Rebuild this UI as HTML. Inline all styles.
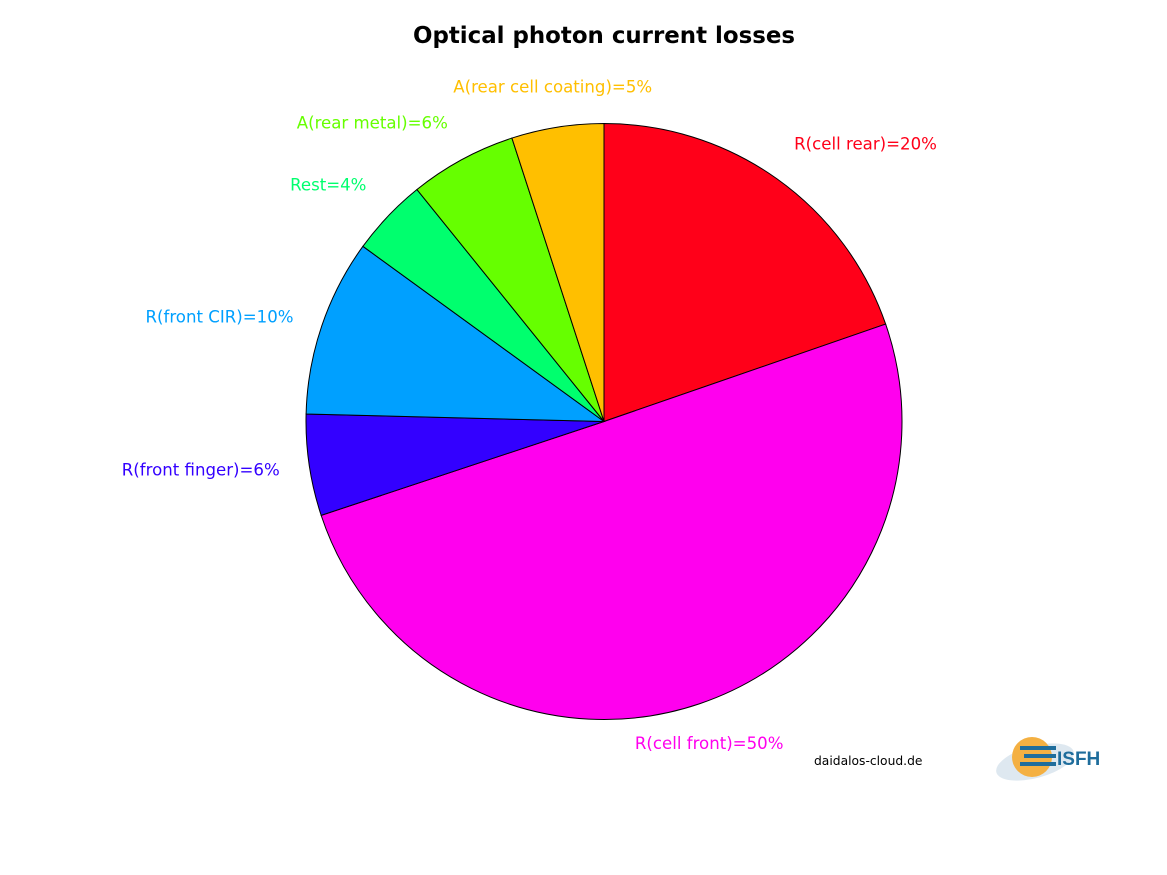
<!DOCTYPE html>
<html><head><meta charset="utf-8"><style>
html,body{margin:0;padding:0;background:#fff;}
svg{display:block;font-family:"DejaVu Sans","Liberation Sans",sans-serif;}
</style></head><body>
<svg id="chart" width="1167" height="875" viewBox="0 0 1167 875">
<rect width="1167" height="875" fill="#fff"/>
<text x="604" y="43" text-anchor="middle" font-size="22.9" font-weight="bold">Optical photon current losses</text>
<g id="slices"></g>
<g id="labels"></g>
<text x="814" y="765" font-size="12.3">daidalos-cloud.de</text>
<g>
<ellipse cx="1035" cy="762" rx="40" ry="16" fill="#c8d8e6" opacity="0.6" transform="rotate(-15 1035 762)"/>
<circle cx="1032" cy="757" r="20" fill="#f4b042"/>
<rect x="1020" y="746" width="36" height="4" fill="#1f6d9c"/>
<rect x="1024" y="754" width="32" height="4" fill="#1f6d9c"/>
<rect x="1020" y="762" width="36" height="4" fill="#1f6d9c"/>
<text x="1057" y="765" font-size="19" font-weight="bold" fill="#1f6d9c" font-family="Liberation Sans, sans-serif">ISFH</text>
</g>
</svg>
<script>
const categories = ["R(cell rear)","R(cell front)","R(front finger)","R(front CIR)","Rest","A(rear metal)","A(rear cell coating)"];
const values = [19.7, 50.2, 5.5, 9.6, 4.2, 5.8, 5.0];
const printedValues = ["20%","50%","6%","10%","4%","6%","5%"];
const colors = ["#ff0019","#ff00ee","#3300ff","#00a0ff","#00ff6e","#66ff00","#ffbf00"];
const cx=604, cy=421.5, r=298;
const ns="http://www.w3.org/2000/svg";
const total = values.reduce((a,b)=>a+b,0);
const sg=document.getElementById('slices'), lg=document.getElementById('labels');
function pt(frac, rad){const a=frac*2*Math.PI;return [cx+rad*Math.sin(a), cy-rad*Math.cos(a)];}
let acc=0;
values.forEach((v,i)=>{
  const f0=acc/total, f1=(acc+v)/total; acc+=v;
  const p0=pt(f0,r), p1=pt(f1,r);
  const large=(f1-f0)>0.5?1:0;
  const p=document.createElementNS(ns,'path');
  p.setAttribute('d',`M${cx},${cy} L${p0[0]},${p0[1]} A${r},${r} 0 ${large} 1 ${p1[0]},${p1[1]} Z`);
  p.setAttribute('fill',colors[i]);p.setAttribute('stroke','#000');p.setAttribute('stroke-width','1');
  
  
  sg.appendChild(p);
  const fm=(f0+f1)/2, a=fm*2*Math.PI, s=Math.sin(a), c=Math.cos(a);
  const lp=pt(fm, r*1.1);
  const t=document.createElementNS(ns,'text');
  let anchor = Math.abs(s)<0.4?'middle':(s>0?'start':'end');
  let y=lp[1];
  if(c>0.5) y-=5; else if(c<-0.5) y+=17; else y+=6;
  t.setAttribute('x',lp[0]);t.setAttribute('y',y);
  t.setAttribute('text-anchor',anchor);t.setAttribute('font-size','16.6');t.setAttribute('fill',colors[i]);
  t.textContent=categories[i]+'='+printedValues[i];
  
  
  lg.appendChild(t);
});
</script>
</body></html>
